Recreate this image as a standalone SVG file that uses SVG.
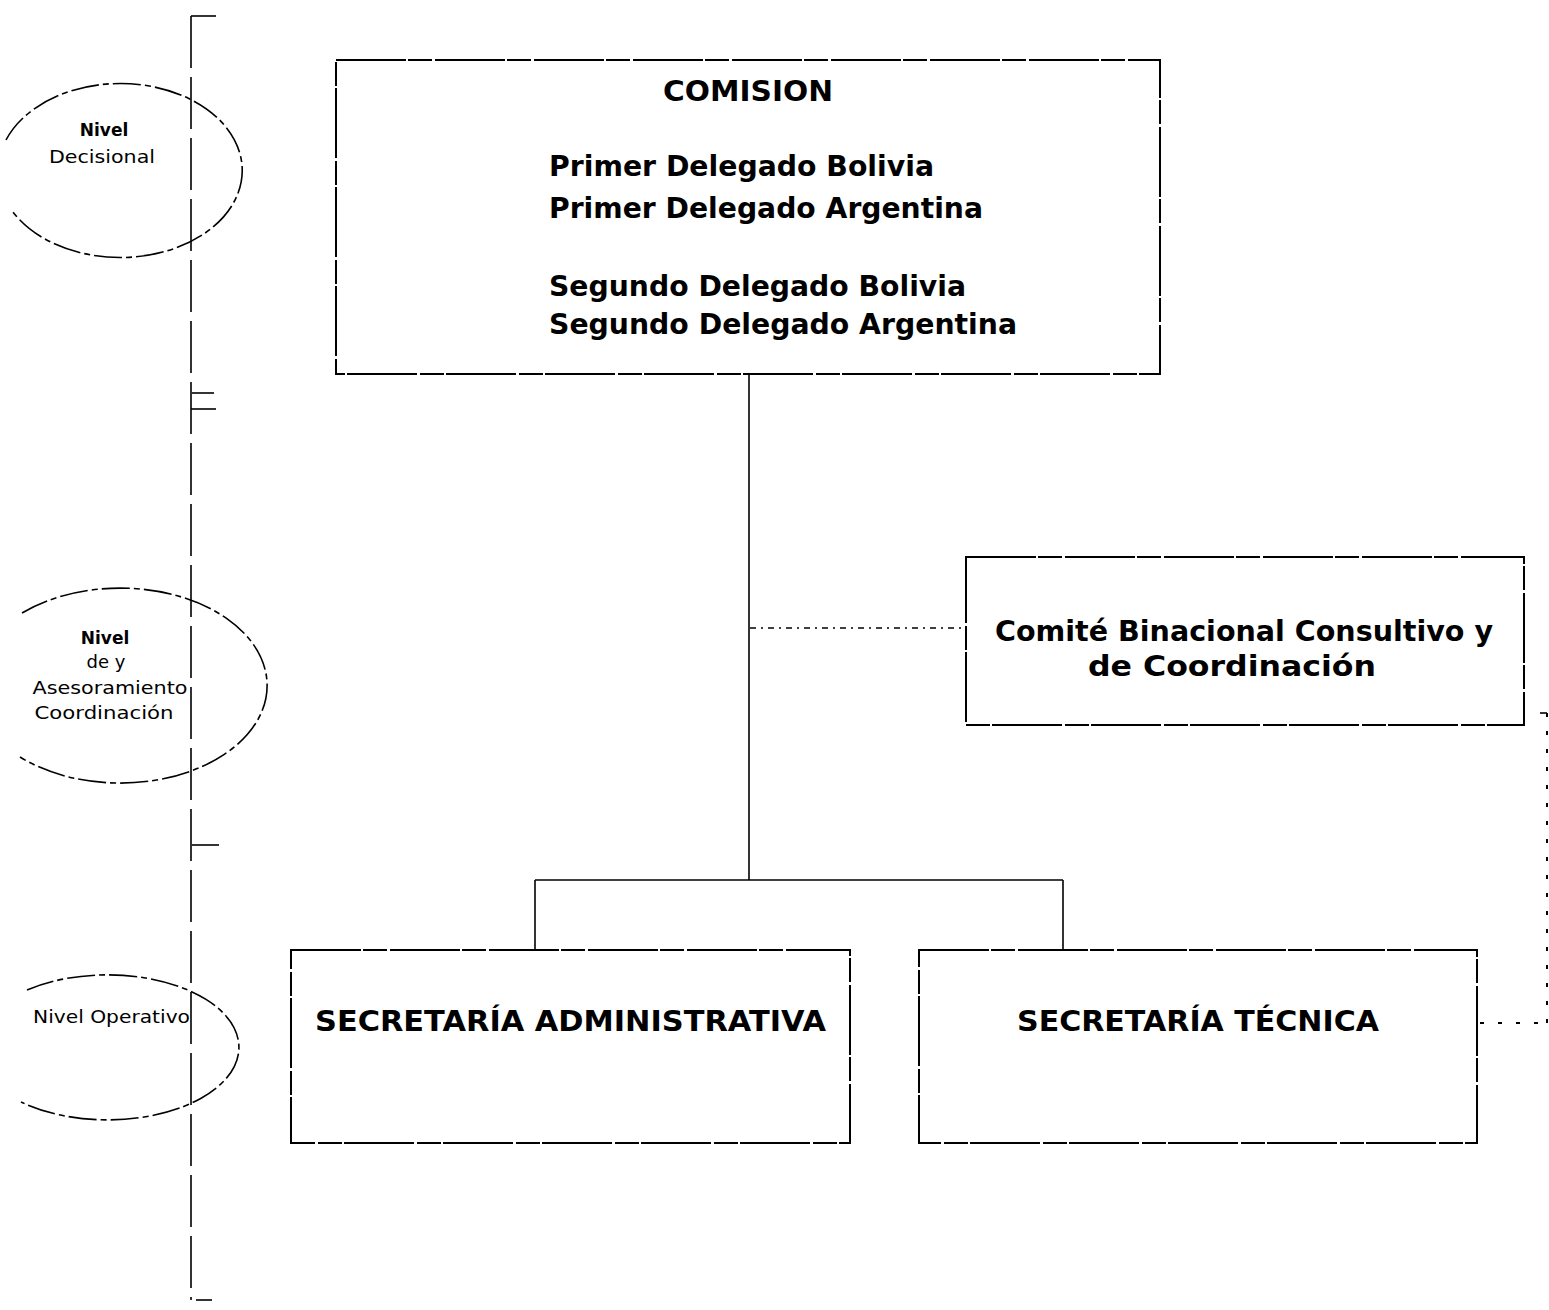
<svg xmlns="http://www.w3.org/2000/svg" width="1549" height="1310" viewBox="0 0 1549 1310">
<style>
.bg{fill:#ffffff}
.box{fill:none;stroke:#000;stroke-width:2;stroke-dasharray:70 2 24 3}
.line{fill:none;stroke:#000;stroke-width:1.6}
.axis{fill:none;stroke:#000;stroke-width:1.6;stroke-dasharray:52 9}
.ell{fill:none;stroke:#000;stroke-width:1.6;stroke-dasharray:28 4 6 4}
.dot{fill:none;stroke:#000;stroke-width:1.6;stroke-dasharray:6 5 2 5}
.dot2{fill:none;stroke:#000;stroke-width:2;stroke-dasharray:4 14}
.big{font-family:"DejaVu Sans","Verdana",sans-serif;font-weight:bold;font-size:29px;fill:#000}
.small{font-family:"DejaVu Sans",sans-serif;font-size:18px;fill:#000}
.smallb{font-family:"DejaVu Sans",sans-serif;font-weight:bold;font-size:17px;fill:#000}
</style>
<rect class="bg" x="0" y="0" width="1549" height="1310"/>

<g id="level-axis">
  <path class="axis" d="M191 16 V1300"/>
  <path class="line" d="M191 16 H216"/>
  <path class="line" d="M192 393 H214"/>
  <path class="line" d="M191 409 H216"/>
  <path class="line" d="M192 845 H219"/>
  <path class="line" d="M196 1300 H212"/>
</g>

<g id="nivel-decisional">
  <path class="ell" d="M6 140 A122 87 0 1 1 13 212"/>
  <text class="smallb" x="104" y="136" text-anchor="middle">Nivel</text>
  <text class="small" x="102" y="163" text-anchor="middle" textLength="106" lengthAdjust="spacingAndGlyphs">Decisional</text>
</g>

<g id="nivel-asesoramiento">
  <path class="ell" d="M22 613 A147 97.5 0 1 1 20 757"/>
  <text class="smallb" x="105" y="644" text-anchor="middle">Nivel</text>
  <text class="small" x="106" y="668" text-anchor="middle">de y</text>
  <text class="small" x="110" y="694" text-anchor="middle" textLength="155" lengthAdjust="spacingAndGlyphs">Asesoramiento</text>
  <text class="small" x="104" y="719" text-anchor="middle" textLength="139" lengthAdjust="spacingAndGlyphs">Coordinación</text>
</g>

<g id="nivel-operativo">
  <path class="ell" d="M27 990 A131.5 72.5 0 1 1 21 1102"/>
  <text class="small" x="33" y="1023" textLength="157" lengthAdjust="spacingAndGlyphs">Nivel Operativo</text>
</g>

<g id="connectors">
  <path class="line" d="M749 375 V880"/>
  <path class="line" d="M535 880 H1063"/>
  <path class="line" d="M535 880 V950"/>
  <path class="line" d="M1063 880 V950"/>
  <path class="dot" d="M750 628 H962"/>
  <path class="line" d="M1540 713 H1547"/>
  <path class="dot2" d="M1547 713 V1023"/>
  <path class="dot2" d="M1480 1023 H1547"/>
</g>

<g id="comision">
  <rect class="box" x="336" y="60" width="824" height="314"/>
  <text class="big" x="663" y="101" textLength="170" lengthAdjust="spacingAndGlyphs">COMISION</text>
  <text class="big" x="549" y="176" textLength="385" lengthAdjust="spacingAndGlyphs">Primer Delegado Bolivia</text>
  <text class="big" x="549" y="218" textLength="434" lengthAdjust="spacingAndGlyphs">Primer Delegado Argentina</text>
  <text class="big" x="549" y="296" textLength="417" lengthAdjust="spacingAndGlyphs">Segundo Delegado Bolivia</text>
  <text class="big" x="549" y="334" textLength="468" lengthAdjust="spacingAndGlyphs">Segundo Delegado Argentina</text>
</g>

<g id="comite">
  <rect class="box" x="966" y="557" width="558" height="168"/>
  <text class="big" x="995" y="641" textLength="498" lengthAdjust="spacingAndGlyphs">Comité Binacional Consultivo y</text>
  <text class="big" x="1088" y="676" textLength="288" lengthAdjust="spacingAndGlyphs">de Coordinación</text>
</g>

<g id="secretaria-administrativa">
  <rect class="box" x="291" y="950" width="559" height="193"/>
  <text class="big" x="315" y="1031" textLength="511" lengthAdjust="spacingAndGlyphs">SECRETARÍA ADMINISTRATIVA</text>
</g>

<g id="secretaria-tecnica">
  <rect class="box" x="919" y="950" width="558" height="193"/>
  <text class="big" x="1017" y="1031" textLength="362" lengthAdjust="spacingAndGlyphs">SECRETARÍA TÉCNICA</text>
</g>
</svg>
